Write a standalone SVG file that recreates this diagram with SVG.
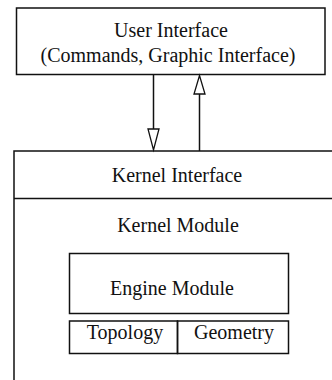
<svg xmlns="http://www.w3.org/2000/svg" width="332" height="380" viewBox="0 0 332 380">
  <style>
    .box { fill: none; stroke: #111; stroke-width: 1.5; }
    .line { stroke: #111; stroke-width: 1.5; fill: none; }
    .head { fill: #fff; stroke: #111; stroke-width: 1.3; stroke-linejoin: miter; }
    text { font-family: "Liberation Serif", "Times New Roman", serif; font-size: 20px; fill: #111; text-anchor: middle; }
  </style>
  <rect width="332" height="380" fill="#fff"/>

  <!-- top layer -->
  <g id="user-interface">
    <rect class="box" x="16.5" y="8" width="308.5" height="66.5"/>
    <text x="171" y="37">User Interface</text>
    <text x="168" y="62">(Commands, Graphic Interface)</text>
  </g>

  <!-- kernel frame, running past the right and bottom edges -->
  <g id="kernel">
    <path class="line" d="M14 380 V151 H340"/>
    <path class="line" d="M14 198.5 H340"/>
    <text x="177" y="182">Kernel Interface</text>
    <text x="178" y="232">Kernel Module</text>
  </g>

  <g id="engine-module">
    <rect class="box" x="69.5" y="253.5" width="219" height="60"/>
    <text x="172" y="295">Engine Module</text>
  </g>

  <g id="topology">
    <rect class="box" x="69.5" y="321" width="108" height="32.5"/>
    <text x="125" y="339">Topology</text>
  </g>

  <g id="geometry">
    <rect class="box" x="177.5" y="321" width="111" height="32.5"/>
    <text x="234" y="339">Geometry</text>
  </g>

  <!-- calls down and results up -->
  <g id="connectors">
    <line class="line" x1="153.5" y1="75" x2="153.5" y2="129"/>
    <polygon class="head" points="148,129 159,129 153.5,150"/>
    <line class="line" x1="199.5" y1="94" x2="199.5" y2="151"/>
    <polygon class="head" points="194,94 205,94 199.5,75.5"/>
  </g>
</svg>
